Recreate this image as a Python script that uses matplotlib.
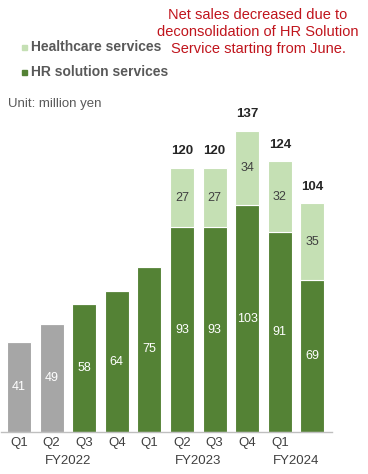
import matplotlib
matplotlib.use("Agg")
import matplotlib.pyplot as plt
from matplotlib import transforms
from matplotlib.patches import Rectangle

plt.rcParams['font.family'] = ['Liberation Sans', 'DejaVu Sans']

quarters = ["Q1", "Q2", "Q3", "Q4", "Q1", "Q2", "Q3", "Q4", "Q1", ""]
fiscal_years = ["FY2022", "FY2023", "FY2024"]
fy_positions = [1.5, 5.5, 8.5]
hr_values = [41, 49, 58, 64, 75, 93, 93, 103, 91, 69]
health_values = [0, 0, 0, 0, 0, 27, 27, 34, 32, 35]
totals = [None, None, None, None, None, 120, 120, 137, 124, 104]
hr_is_gray = [True, True, False, False, False, False, False, False, False, False]

GRAY = "#a6a6a6"
GREEN = "#548235"
LIGHT = "#c5e0b4"
TXT = "#404040"

W, H = 368, 474
fig = plt.figure(figsize=(W / 100, H / 100), dpi=100)
base_px = 432
ax = fig.add_axes([0, (H - base_px) / H, 1, base_px / H])
step = 32.6
x0 = 19
ax.set_xlim(-x0 / step, (W - x0) / step)
ax.set_ylim(0, base_px / 2.2)
ax.axis("off")

xs = list(range(len(hr_values)))
hr_colors = [GRAY if g else GREEN for g in hr_is_gray]
ax.bar(xs, hr_values, width=0.74, color=hr_colors, edgecolor="white", linewidth=0.8)
ax.bar(xs, health_values, bottom=hr_values, width=0.74, color=LIGHT, edgecolor="white", linewidth=0.8)

for i in xs:
    ax.text(i, hr_values[i] / 2, str(hr_values[i]), ha="center", va="center",
            color="white", fontsize=9)
    if health_values[i]:
        ax.text(i, hr_values[i] + health_values[i] / 2, str(health_values[i]),
                ha="center", va="center", color=TXT, fontsize=9)
    if totals[i] is not None:
        ax.annotate(str(totals[i]), (i, hr_values[i] + health_values[i]),
                    xytext=(0, 12), textcoords="offset points", ha="center",
                    va="center", fontsize=9.5, fontweight="bold", color="#262626")

ax.plot([-0.55, 9.6], [0, 0], color="#bfbfbf", lw=1, clip_on=False)

tr = transforms.blended_transform_factory(ax.transData, fig.transFigure)
for i, q in enumerate(quarters):
    ax.text(i, (H - 443) / H, q, transform=tr, ha="center", va="center",
            fontsize=9.5, color=TXT)
for p, fy in zip(fy_positions, fiscal_years):
    ax.text(p, (H - 461) / H, fy, transform=tr, ha="center", va="center",
            fontsize=9.5, color=TXT)

# legend
for y, c, lab in [(47, LIGHT, "Healthcare services"), (72, GREEN, "HR solution services")]:
    fig.add_artist(Rectangle(((22) / W, (H - y - 2.5) / H), 5 / W, 5 / H,
                             transform=fig.transFigure, color=c))
    fig.text(31 / W, (H - y) / H, lab, ha="left", va="center", fontsize=10,
             fontweight="bold", color="#595959")

fig.text(8 / W, (H - 104) / H, "Unit: million yen", ha="left", va="center",
         fontsize=9.5, color="#595959")

fig.text(258 / W, (H - 32) / H,
         "Net sales decreased due to\ndeconsolidation of HR Solution\nService starting from June.",
         ha="center", va="center", fontsize=10.5, color="#c0141c", linespacing=1.3)

fig.savefig("out.png", dpi=100)
